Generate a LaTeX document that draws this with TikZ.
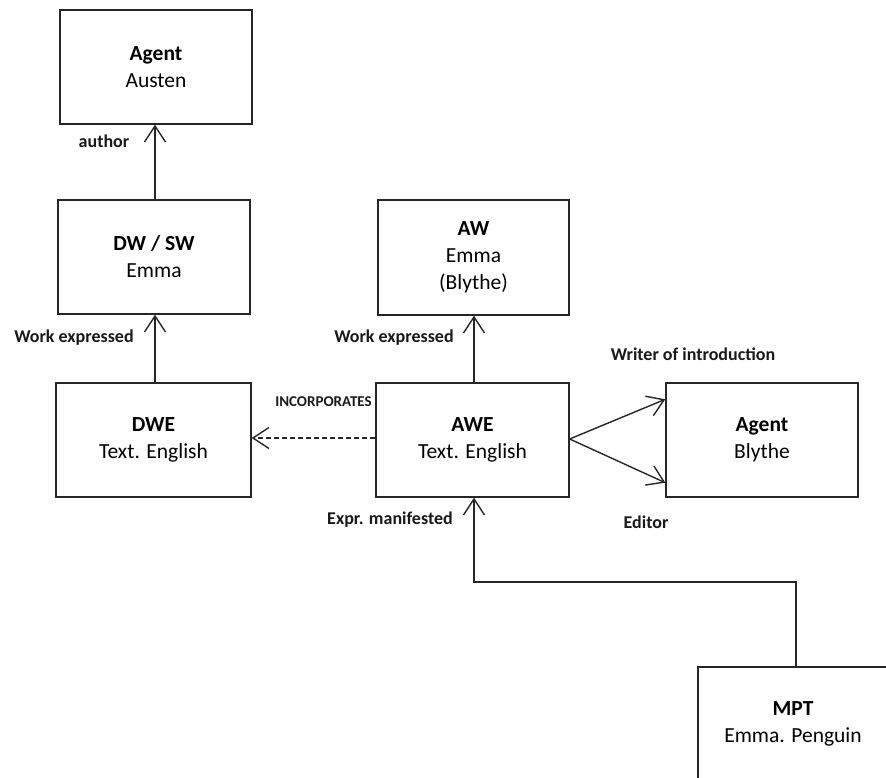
\documentclass[tikz,border=0pt]{standalone}
\usepackage{fontspec}
\setmainfont{Carlito}
\usetikzlibrary{arrows.meta,calc}

\tikzset{
  boxline/.style={draw=black!85, line width=1.4pt},
  entity/.style={boxline, rectangle, align=center,
    inner sep=0pt, font=\fontsize{21.5}{27}\selectfont},
  rel/.style={font=\bfseries\fontsize{18}{20}\selectfont, inner sep=0pt, text=black!90},
  smallrel/.style={font=\bfseries\fontsize{15}{17}\selectfont, inner sep=0pt, text=black!90},
  link/.style={draw=black!85, line width=1.4pt,
    -{Straight Barb[length=16pt,width=21pt,line width=1.4pt]}},
}

\begin{document}
\begin{tikzpicture}[x=1pt,y=-1pt]
  \useasboundingbox (0,0) rectangle (886,778);
  \clip (0,0) rectangle (886,778);

  % boxes
  \node[entity, minimum width=192, minimum height=114] (austen) at (156,67)
    {\textbf{Agent}\\Austen};
  \node[entity, minimum width=192, minimum height=114] (dwsw) at (154,257)
    {\textbf{DW / SW}\\Emma};
  \node[entity, minimum width=195, minimum height=114] (dwe) at (153.5,440)
    {\textbf{DWE}\\Text. English};
  \node[entity, minimum width=191, minimum height=115] (aw) at (473.5,257.5)
    {\textbf{AW}\\Emma\\(Blythe)};
  \node[entity, minimum width=193, minimum height=114] (awe) at (472.5,440)
    {\textbf{AWE}\\Text. English};
  \node[entity, minimum width=192, minimum height=114] (blythe) at (762,440)
    {\textbf{Agent}\\Blythe};

  % the manifestation box runs on past the right and bottom edges of the page
  \node[font=\fontsize{21.5}{27}\selectfont, align=center, inner sep=0pt] (mpt) at (793,724)
    {\textbf{MPT}\\Emma. Penguin};
  \coordinate (mpttop) at (796,667);
  \draw[boxline] (698,800) |- (920,667);

  % relationships
  \draw[link] (dwsw.north -| 155,0) -- (austen.south -| 155,0);
  \draw[link] (dwe.north -| 155,0) -- (dwsw.south -| 155,0);
  \draw[link] (awe.north -| 474,0) -- (aw.south -| 474,0);
  \draw[link, dash pattern=on 5pt off 3pt] ($(awe.west)+(0,-2)$) -- ($(dwe.east)+(0,-2)$);
  \draw[link] ($(awe.east)+(0,-1)$) -- ($(blythe.north west)+(0,17)$);
  \draw[link] ($(awe.east)+(0,-1)$) -- ($(blythe.south west)+(0,-15)$);
  \coordinate (bend) at (474,582);
  \draw[link] (mpttop) |- (bend) -- (awe.south -| bend);

  % relationship labels
  \node[rel] (lauthor) at (104,141) {author};
  \node[rel] (lwe1) at (74,338) {Work expressed};
  \node[rel] (lwe2) at (394,338) {Work expressed};
  \node[smallrel] (lincorp) at (323.5,402) {INCORPORATES};
  \node[rel] (lwriter) at (693,354) {Writer of introduction};
  \node[rel] (leditor) at (646,522) {Editor};
  \node[rel] (lexpr) at (390,520) {Expr. manifested};
\end{tikzpicture}
\end{document}
